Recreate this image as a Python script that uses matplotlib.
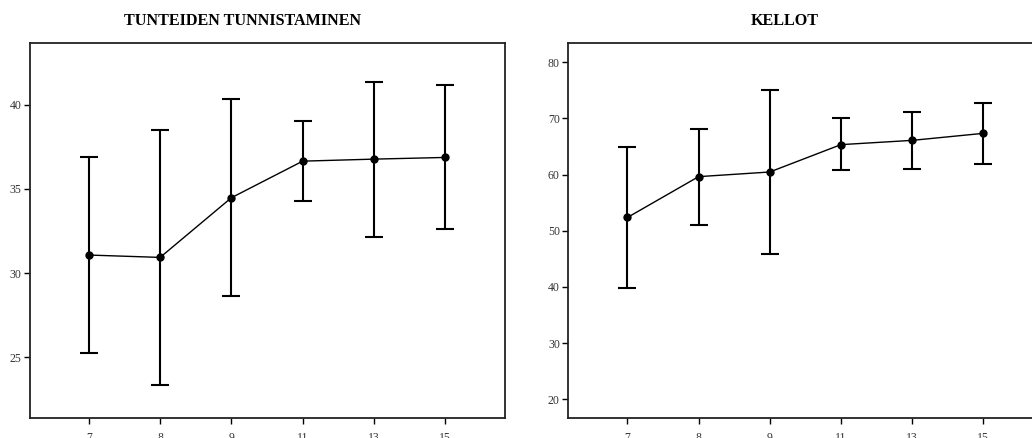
import matplotlib
matplotlib.use("Agg")
import matplotlib.pyplot as plt

groups = ["7", "8", "9", "11", "13", "15"]

tunnit_title = "TUNTEIDEN TUNNISTAMINEN"
tunnit_mean = [31.07, 30.93, 34.47, 36.64, 36.76, 36.86]
tunnit_upper = [36.90, 38.50, 40.30, 39.00, 41.35, 41.14]
tunnit_lower = [25.25, 23.36, 28.62, 34.25, 32.15, 32.60]
tunnit_yticks = [25, 30, 35, 40]

kellot_title = "KELLOT"
kellot_mean = [52.37, 59.64, 60.47, 65.34, 66.10, 67.35]
kellot_upper = [64.98, 68.20, 75.10, 70.00, 71.20, 72.70]
kellot_lower = [39.90, 51.07, 45.80, 60.77, 61.07, 61.96]
kellot_yticks = [20, 30, 40, 50, 60, 70, 80]

plt.rcParams["font.family"] = ["Liberation Serif", "DejaVu Serif"]

fig = plt.figure(figsize=(10.32, 4.38), dpi=100)


def panel(rect, mean, upper, lower, yticks, ylim, title, title_x):
    ax = fig.add_axes(rect)
    x = list(range(len(groups)))
    yerr = [[m - lo for m, lo in zip(mean, lower)],
            [u - m for m, u in zip(mean, upper)]]
    ax.errorbar(x, mean, yerr=yerr, fmt="none", ecolor="black",
                elinewidth=1.5, capsize=6.4, capthick=1.5, zorder=2)
    ax.plot(x, mean, color="black", lw=1.0, marker="o", ms=5,
            mfc="black", mec="black", zorder=3)
    ax.set_xticks(x)
    ax.set_xticklabels(groups)
    ax.set_yticks(yticks)
    ax.set_xlim(-0.83, 5.84)
    ax.set_ylim(*ylim)
    ax.tick_params(axis="both", direction="out", length=4.6, width=1.0,
                   labelsize=8.5, colors="black", labelcolor="#333333", pad=1.5)
    ax.tick_params(axis="x", pad=5.5)
    for s in ax.spines.values():
        s.set_linewidth(1.3)
        s.set_color("#222222")
    fig.text(title_x, 0.953, title, ha="center", va="center",
             fontsize=11.6, fontweight="bold")
    return ax


panel([0.0288, 0.0463, 0.4606, 0.8548], tunnit_mean, tunnit_upper,
      tunnit_lower, tunnit_yticks, (21.42, 43.63), tunnit_title, 0.2355)
panel([0.5507, 0.0463, 0.4600, 0.8548], kellot_mean, kellot_upper,
      kellot_lower, kellot_yticks, (16.72, 83.38), kellot_title, 0.7604)

fig.savefig("out.png", dpi=100)
